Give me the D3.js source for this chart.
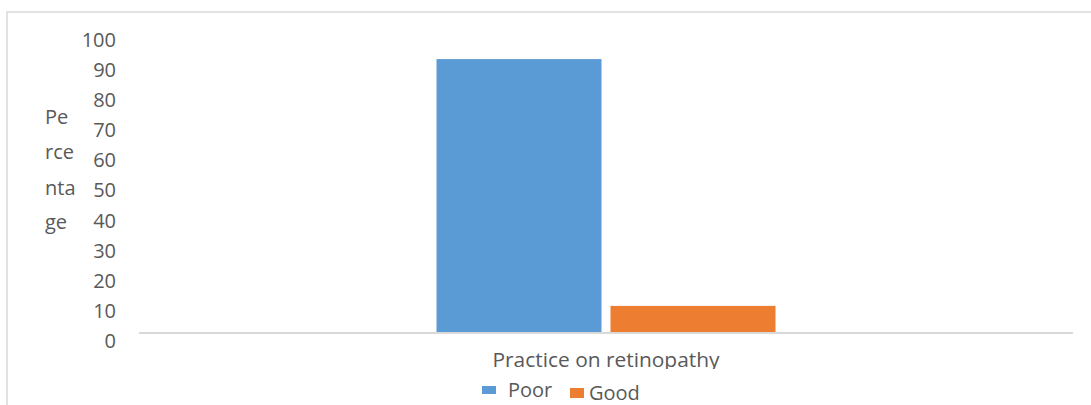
<!DOCTYPE html>
<html>
<head>
<meta charset="utf-8">
<script src="https://cdn.jsdelivr.net/npm/d3@7"></script>
<style>
  html, body { margin: 0; padding: 0; background: #fff; }
  svg { display: block; }
  text { font-family: "Open Sans", "Noto Sans", sans-serif; fill: #595959; }
</style>
</head>
<body>
<svg id="chart" width="1091" height="405"></svg>
<script>
// Chart data
const categories = ["Practice on retinopathy"];
const seriesNames = ["Poor", "Good"];
const poorValues = [91];
const goodValues = [9];
const yTicks = [0, 10, 20, 30, 40, 50, 60, 70, 80, 90, 100];
const yTitleLines = ["Pe", "rce", "nta", "ge"];
const colors = ["#5B9BD5", "#ED7D31"];

const rows = categories.map((c, i) => ({ category: c, Poor: poorValues[i], Good: goodValues[i] }));

const svg = d3.select("#chart");
const W = 1091, H = 405;
const plot = { left: 139, right: 1073, top: 32, bottom: 333 };

// Outer frame (top and left edges only)
svg.append("path")
  .attr("d", `M7,${H} L7,12 L${W},12`)
  .attr("fill", "none")
  .attr("stroke", "#d9d9d9")
  .attr("stroke-width", 1.5);

const y = d3.scaleLinear().domain([0, 100]).range([plot.bottom, plot.top]);

const x0 = d3.scaleBand()
  .domain(categories)
  .range([plot.left, plot.right])
  .paddingInner(0)
  .paddingOuter(0.8776);

const x1 = d3.scaleBand()
  .domain(seriesNames)
  .range([0, x0.bandwidth()])
  .paddingInner(0.0517)
  .paddingOuter(0);

const color = d3.scaleOrdinal().domain(seriesNames).range(colors);

// Y axis tick labels
const yAxis = d3.axisLeft(y).tickValues(yTicks).tickSize(0).tickPadding(0).tickFormat(d3.format("d"));
const yg = svg.append("g").attr("transform", "translate(116,8)").call(yAxis);
yg.select(".domain").remove();
yg.selectAll("text")
  .style("font-family", "'Open Sans', sans-serif")
  .style("font-size", "20px")
  .attr("fill", "#595959");

// Bars
const groups = svg.append("g").selectAll("g")
  .data(rows)
  .join("g")
  .attr("transform", d => `translate(${x0(d.category)},0)`);

groups.selectAll("rect")
  .data(d => seriesNames.map(k => ({ key: k, value: d[k] })))
  .join("rect")
  .attr("x", d => x1(d.key))
  .attr("width", x1.bandwidth())
  .attr("y", d => y(d.value))
  .attr("height", d => y(0) - y(d.value))
  .attr("fill", d => color(d.key));

// Category axis baseline
svg.append("line")
  .attr("x1", plot.left).attr("x2", plot.right)
  .attr("y1", y(0)).attr("y2", y(0))
  .attr("stroke", "#d9d9d9")
  .attr("stroke-width", 2);

// Category label, trimmed at its lower edge
svg.append("clipPath").attr("id", "catClip")
  .append("rect").attr("x", 0).attr("y", 340).attr("width", W).attr("height", 29);

svg.append("g").attr("clip-path", "url(#catClip)")
  .selectAll("text")
  .data(categories)
  .join("text")
  .attr("x", d => x0(d) + x0.bandwidth() / 2)
  .attr("y", 367)
  .attr("text-anchor", "middle")
  .attr("textLength", 227)
  .attr("lengthAdjust", "spacingAndGlyphs")
  .style("font-size", "20px")
  .text(d => d);

// Y axis title, broken over several lines
svg.append("g").selectAll("text")
  .data(yTitleLines)
  .join("text")
  .attr("x", 45)
  .attr("y", (d, i) => [117, 152, 188, 222][i])
  .attr("dy", "0.35em")
  .style("font-size", "20px")
  .text(d => d);

// Legend
const legendItems = [
  { key: "Poor", sx: 482, sy: 386, tx: 508, ty: 390 },
  { key: "Good", sx: 570, sy: 388, tx: 589, ty: 393 }
];
const lg = svg.append("g");
lg.selectAll("rect")
  .data(legendItems)
  .join("rect")
  .attr("x", d => d.sx).attr("y", d => d.sy)
  .attr("width", 14).attr("height", d => d.key === "Poor" ? 8 : 10)
  .attr("fill", d => color(d.key));
lg.selectAll("text")
  .data(legendItems)
  .join("text")
  .attr("x", d => d.tx).attr("y", d => d.ty)
  .attr("dy", "0.35em")
  .style("font-size", "20px")
  .text(d => d.key);
</script>
</body>
</html>
